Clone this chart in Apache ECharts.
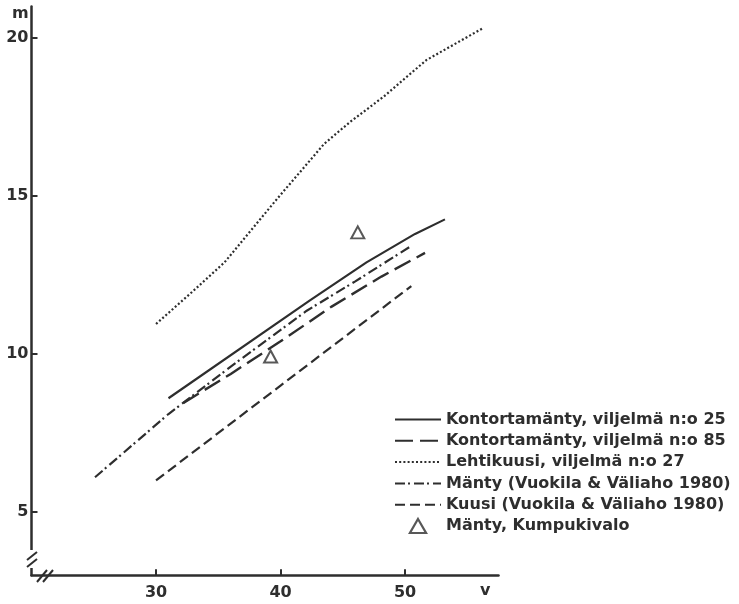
<!DOCTYPE html>
<html><head><meta charset="utf-8">
<script src="https://cdn.jsdelivr.net/npm/echarts@6/dist/echarts.min.js"></script>
<style>html,body{margin:0;padding:0;background:#fff}#c{width:739px;height:604px}</style>
</head><body><div id="c"></div>
<script>
// ---- data ----
const xTicks = [30, 40, 50];
const yTicks = [5, 10, 15, 20];
const names = [
  'Kontortamänty, viljelmä n:o 25',
  'Kontortamänty, viljelmä n:o 85',
  'Lehtikuusi, viljelmä n:o 27',
  'Mänty (Vuokila & Väliaho 1980)',
  'Kuusi (Vuokila & Väliaho 1980)',
  'Mänty, Kumpukivalo'
];
const kontorta25 = [[31, 8.6], [42.3, 11.68], [46.9, 12.9], [50.8, 13.8], [53.2, 14.26]];
const kontorta85 = [[32.2, 8.45], [36, 9.37], [40, 10.4], [44.1, 11.5], [48.1, 12.45], [51.6, 13.2]];
const lehtikuusi27 = [[30, 10.95], [33, 12.0], [35.5, 12.9], [39.7, 14.9], [43.5, 16.65], [45.6, 17.35], [48.3, 18.15], [51.7, 19.3], [56.2, 20.3]];
const mantyVV = [[25.1, 6.1], [31, 8.1], [36, 9.6], [42.1, 11.37], [46, 12.3], [50.5, 13.42]];
const kuusiVV = [[30, 6.0], [40, 9.0], [50.5, 12.15]];
const mantyKumpu = [[39.2, 9.92], [46.2, 13.85]];

const INK = '#2e2e2e';
const FONT = 'DejaVu Sans';

function lineSeries(name, data, type, width) {
  return {
    name: name, type: 'line', data: data, symbol: 'none', showSymbol: false,
    lineStyle: { color: INK, width: width, type: type, cap: 'butt' },
    itemStyle: { color: INK },
    silent: true, animation: false, z: 3
  };
}

const legendData = names.slice(0, 5).map(function (n) {
  return { name: n, itemStyle: { opacity: 0 } };
});
legendData.push({
  name: names[5],
  icon: 'path://M6,0 L12,10.4 L0,10.4 Z',
  itemStyle: { color: '#ffffff', borderColor: INK, borderWidth: 2.2 }
});

const chart = echarts.init(document.getElementById('c'), null, { renderer: 'canvas' });
chart.setOption({
  backgroundColor: '#ffffff',
  animation: false,
  grid: { left: 31.5, top: 6.4, width: 467, height: 568.8, containLabel: false },
  xAxis: {
    type: 'value', min: 20, max: 57.5,
    splitLine: { show: false },
    axisLine: { show: true, lineStyle: { color: INK, width: 2.5 } },
    axisTick: { show: true, inside: true, length: 6, lineStyle: { color: INK, width: 2 }, customValues: xTicks },
    axisLabel: { show: true, margin: 10, color: INK, fontSize: 16, fontWeight: 'bold', fontFamily: FONT, customValues: xTicks }
  },
  yAxis: {
    type: 'value', min: 3, max: 21,
    splitLine: { show: false },
    axisLine: { show: true, lineStyle: { color: INK, width: 2.5 } },
    axisTick: { show: true, inside: true, length: 6, lineStyle: { color: INK, width: 2 }, customValues: yTicks },
    axisLabel: { show: true, margin: 3, color: INK, fontSize: 16, fontWeight: 'bold', fontFamily: FONT, customValues: yTicks }
  },
  legend: {
    orient: 'vertical', left: 389, top: 406,
    itemWidth: 46, itemHeight: 14, itemGap: 4.3,
    data: legendData,
    selectedMode: false,
    textStyle: { color: INK, fontSize: 16, fontWeight: 'bold', fontFamily: FONT, lineHeight: 17 }
  },
  series: [
    lineSeries(names[0], kontorta25, 'solid', 2.2),
    lineSeries(names[1], kontorta85, [18, 7], 2.4),
    lineSeries(names[2], lehtikuusi27, [2, 2.2], 2.2),
    lineSeries(names[3], mantyVV, [10, 3, 2, 4], 2.2),
    lineSeries(names[4], kuusiVV, [10, 5], 2.2),
    {
      name: names[5], type: 'scatter', data: mantyKumpu,
      symbol: 'emptyTriangle', symbolSize: [13, 12],
      itemStyle: { color: INK, borderColor: INK, borderWidth: 2.2 },
      silent: true, animation: false, z: 4
    }
  ],
  graphic: [
    { type: 'text', left: 12, top: 6, z: 100, style: { text: 'm', fill: INK, font: 'bold 16px "DejaVu Sans"' } },
    { type: 'text', left: 480, top: 583, z: 100, style: { text: 'v', fill: INK, font: 'bold 16px "DejaVu Sans"' } },
    // axis break marks
    { type: 'rect', z: 100, shape: { x: 27, y: 550, width: 10, height: 18 }, style: { fill: '#ffffff' } },
    { type: 'line', z: 101, shape: { x1: 27, y1: 560, x2: 37, y2: 552 }, style: { stroke: INK, lineWidth: 2 } },
    { type: 'line', z: 101, shape: { x1: 27, y1: 567, x2: 37, y2: 559 }, style: { stroke: INK, lineWidth: 2 } },
    { type: 'line', z: 101, shape: { x1: 37, y1: 582, x2: 47, y2: 570 }, style: { stroke: INK, lineWidth: 2 } },
    { type: 'line', z: 101, shape: { x1: 43, y1: 582, x2: 53, y2: 570 }, style: { stroke: INK, lineWidth: 2 } }
  ]
});
</script>
</body></html>
